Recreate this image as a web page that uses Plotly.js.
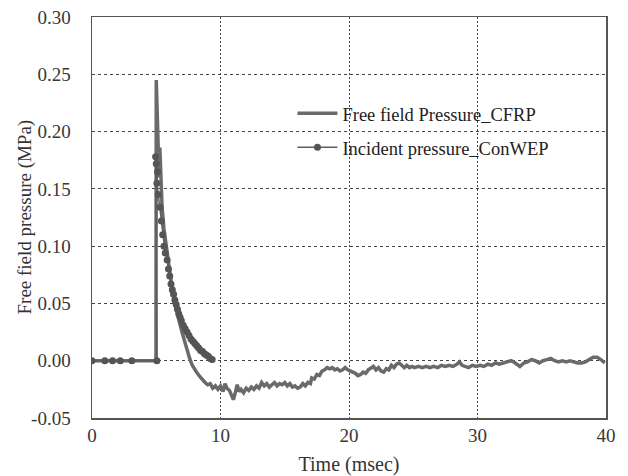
<!DOCTYPE html>
<html>
<head>
<meta charset="utf-8">
<script src="https://cdn.plot.ly/plotly-3.0.1.min.js"></script>
<style>html,body{margin:0;padding:0;background:#fff;}#chart{width:628px;height:476px;}</style>
</head>
<body>
<div id="chart"></div>
<script>
// Free field Pressure_CFRP (time in ms, pressure in MPa)
const cfrpTime = [0, 4.98, 5.0, 5.08, 5.15, 5.22, 5.28, 5.35, 5.45, 5.6, 5.8, 6.0, 6.2, 6.4, 6.6, 6.8, 7.0, 7.2, 7.4, 7.6,
  7.8, 8.0, 8.2, 8.4, 8.6, 8.8, 9.0, 9.2, 9.4, 9.6, 9.8, 10.0, 10.2, 10.35, 10.5, 10.7, 10.85, 11.0, 11.15, 11.3,
  11.45, 11.6, 11.8, 12.0, 12.2, 12.4, 12.6, 12.8, 13.0, 13.2, 13.4, 13.6, 13.8, 14.0, 14.2, 14.4, 14.6, 14.8, 15.0, 15.2,
  15.4, 15.6, 15.8, 16.0, 16.2, 16.4, 16.6, 16.8, 17.0, 17.1, 17.3, 17.5, 17.7, 17.9, 18.1, 18.3, 18.5, 18.7, 18.9, 19.1,
  19.3, 19.5, 19.7, 19.9, 20.1, 20.3, 20.5, 20.7, 20.9, 21.1, 21.3, 21.5, 21.7, 21.9, 22.1, 22.3, 22.5, 22.7, 22.9, 23.1,
  23.3, 23.5, 23.7, 23.9, 24.1, 24.3, 24.5, 24.7, 24.9, 25.1, 25.4, 25.7, 26.0, 26.3, 26.6, 26.9, 27.2, 27.5, 27.8, 28.1,
  28.4, 28.6, 28.8, 29.0, 29.3, 29.6, 29.9, 30.2, 30.5, 30.8, 31.1, 31.4, 31.7, 32.0, 32.3, 32.6, 32.8, 33.0, 33.3, 33.6,
  33.9, 34.2, 34.5, 34.8, 35.1, 35.4, 35.7, 36.0, 36.3, 36.6, 36.9, 37.2, 37.5, 37.8, 38.1, 38.4, 38.7, 39.0, 39.3, 39.6, 39.9];
const cfrpPressure = [0, 0, 0.245, 0.205, 0.172, 0.160, 0.186, 0.152, 0.135, 0.115, 0.097, 0.082, 0.066, 0.054, 0.043, 0.034, 0.025, 0.017, 0.009, 0.002,
  -0.004, -0.008, -0.011, -0.014, -0.017, -0.019, -0.021, -0.020, -0.024, -0.022, -0.025, -0.022, -0.027, -0.020, -0.024, -0.026, -0.030, -0.034, -0.028, -0.021,
  -0.027, -0.025, -0.028, -0.024, -0.026, -0.023, -0.025, -0.022, -0.024, -0.019, -0.022, -0.020, -0.023, -0.021, -0.019, -0.022, -0.020, -0.021, -0.019, -0.022,
  -0.020, -0.023, -0.022, -0.024, -0.023, -0.020, -0.022, -0.019, -0.020, -0.015, -0.016, -0.012, -0.013, -0.009, -0.008, -0.006, -0.007, -0.006, -0.008, -0.007,
  -0.009, -0.008, -0.006, -0.008, -0.009, -0.010, -0.011, -0.013, -0.012, -0.010, -0.011, -0.008, -0.006, -0.005, -0.008, -0.006, -0.009, -0.010, -0.007, -0.008,
  -0.004, -0.006, -0.003, -0.002, -0.004, -0.006, -0.004, -0.006, -0.005, -0.006, -0.005, -0.006, -0.005, -0.006, -0.005, -0.006, -0.004, -0.005, -0.004, -0.005,
  -0.003, -0.001, -0.004, -0.005, -0.006, -0.004, -0.005, -0.004, -0.005, -0.003, -0.004, -0.002, -0.003, -0.002, -0.001, 0.000, -0.001, -0.003, -0.005, -0.002,
  -0.001, 0.001, 0.000, -0.002, 0.000, 0.001, 0.002, 0.000, -0.001, 0.000, -0.001, 0.000, -0.001, -0.002, -0.002, -0.001, 0.001, 0.003, 0.003, 0.001, -0.002];

// Incident pressure_ConWEP
const conwepTime = [0, 1.0, 1.6, 2.2, 3.1, 5.05, 4.95, 5.0, 5.1, 5.05, 5.15, 5.3, 5.4, 5.5, 5.6, 5.7, 5.85, 5.95, 6.05, 6.15,
  6.25, 6.35, 6.45, 6.55, 6.65, 6.75, 6.85, 6.95, 7.1, 7.25, 7.4, 7.55, 7.7, 7.85, 8.0, 8.15, 8.3, 8.45, 8.6, 8.75,
  8.9, 9.05, 9.2, 9.35];
const conwepPressure = [0, 0, 0, 0, 0, 0, 0.178, 0.172, 0.165, 0.155, 0.145, 0.134, 0.122, 0.110, 0.100, 0.094, 0.088, 0.080, 0.074, 0.067,
  0.062, 0.058, 0.053, 0.049, 0.045, 0.041, 0.038, 0.035, 0.031, 0.028, 0.025, 0.022, 0.019, 0.017, 0.015, 0.013, 0.011, 0.009, 0.008, 0.006,
  0.005, 0.004, 0.002, 0.001];

const xTicks = [0, 10, 20, 30, 40];
const yTicks = [-0.05, 0.00, 0.05, 0.10, 0.15, 0.20, 0.25, 0.30];

const serif = "Liberation Serif, Times New Roman, serif";

const traces = [
  {
    x: cfrpTime, y: cfrpPressure, type: 'scatter', mode: 'lines',
    name: 'Free field Pressure_CFRP', legendgroup: 'a',
    line: {color: '#6a6a6a', width: 3.5}
  },
  {
    x: conwepTime, y: conwepPressure, type: 'scatter', mode: 'lines+markers',
    name: 'Incident pressure_ConWEP', legendgroup: 'b',
    line: {color: '#5e5e5e', width: 1.5},
    marker: {color: '#555555', size: 7, symbol: 'circle'}
  }
];

const layout = {
  width: 628, height: 476,
  margin: {l: 92, r: 22, t: 17, b: 58},
  paper_bgcolor: '#ffffff', plot_bgcolor: '#ffffff',
  font: {family: serif, size: 18, color: '#383838'},
  showlegend: true,
  legend: {
    x: 0.39, y: 0.806, xanchor: 'left', yanchor: 'top',
    bgcolor: 'rgba(0,0,0,0)', borderwidth: 0,
    font: {family: serif, size: 18.5, color: '#222222'},
    tracegroupgap: 7, itemwidth: 40
  },
  xaxis: {
    range: [0, 40], tickvals: xTicks, ticktext: xTicks.map(String),
    showgrid: true, gridcolor: '#444444', gridwidth: 1, griddash: '2px,2px',
    zeroline: false, showline: true, linecolor: '#555555', linewidth: 1.5, mirror: true,
    ticks: '', ticklabelstandoff: 0,
    tickfont: {family: serif, size: 19, color: '#383838'},
    title: {text: 'Time (msec)', font: {family: serif, size: 20, color: '#333333'}, standoff: 13}
  },
  yaxis: {
    range: [-0.05, 0.30], tickvals: yTicks, ticktext: yTicks.map(v => v.toFixed(2)),
    showgrid: true, gridcolor: '#444444', gridwidth: 1, griddash: '3px,3px',
    zeroline: false, showline: true, linecolor: '#555555', linewidth: 1.5, mirror: true,
    ticks: '', ticklabelstandoff: 16,
    tickfont: {family: serif, size: 19, color: '#383838'}
  },
  annotations: [
    {text: 'Free field pressure (MPa)', xref: 'paper', yref: 'paper', x: 0, y: 0.5,
     xanchor: 'center', yanchor: 'middle', xshift: -68, textangle: -90, showarrow: false,
     font: {family: serif, size: 19, color: '#333333'}}
  ],
  shapes: [
    {type: 'rect', xref: 'paper', yref: 'paper', x0: 0.333, x1: 0.961, y0: 0.613, y1: 0.805,
     fillcolor: '#ffffff', line: {width: 0}, layer: 'between'}
  ]
};

Plotly.newPlot('chart', traces, layout, {displayModeBar: false, staticPlot: true});
</script>
</body>
</html>
